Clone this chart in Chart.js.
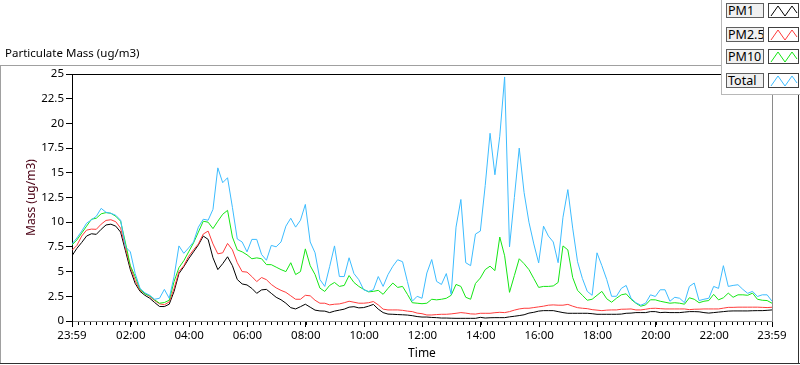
<!DOCTYPE html>
<html><head><meta charset="utf-8">
<script src="https://cdn.jsdelivr.net/npm/chart.js@4.4.1/dist/chart.umd.min.js"></script>
<style>
html,body{margin:0;padding:0;background:#fff;overflow:hidden}
#wrap{position:relative;width:800px;height:365px;background:#fff}
canvas{position:absolute;left:0;top:0}
.ln{position:absolute}
.t{position:absolute;font-family:"Noto Sans",sans-serif;font-size:11px;color:#000;white-space:nowrap}
#legend{position:absolute;left:721px;top:0;width:79px;height:95px;background:#fff;border-left:1px solid #b8b8b8;border-bottom:1px solid #b8b8b8;box-sizing:border-box;z-index:3}
.lab{position:absolute;left:4px;width:38px;height:15px;box-sizing:border-box;background:#f0f0f0;border:1px solid #606060;font-family:"Noto Sans",sans-serif;font-size:12.5px;line-height:13px;padding-left:1px;color:#000;overflow:hidden}
.smp{position:absolute;left:46px;width:31px;height:15px;box-sizing:border-box;background:#fff;border:1px solid #404040}
.smp svg{position:absolute;left:0;top:0}
</style></head><body>
<div id="wrap">
<canvas id="c" width="800" height="365"></canvas>
<div class="ln" style="left:0;top:65px;width:722px;height:1px;background:#a0a0a0"></div>
<div class="ln" style="left:0;top:65px;width:1px;height:299px;background:#a0a0a0"></div>
<div class="ln" style="left:0;top:363px;width:800px;height:1px;background:#303030"></div>
<div class="ln" style="left:798px;top:95px;width:1px;height:269px;background:#303030"></div>
<div class="t" id="title" style="left:5px;top:45px;font-size:11.5px;line-height:15px">Particulate Mass (ug/m3)</div>
<div id="legend"></div>
</div>
<script>
// ---- data ----
const seriesNames = ['PM1', 'PM2.5', 'PM10', 'Total'];
const startMinute = 0;      // 23:59
const stepMinutes = 10;
const pm1 = [
6.6,7.35,7.95,8.6,8.83,8.77,9.28,9.72,9.8,9.6,
9.0,7.1,5.2,3.8,3.0,2.6,2.3,1.87,1.47,1.46,
1.7,3.0,4.8,5.5,6.3,7.0,7.7,8.6,8.26,6.4,
5.2,5.8,6.5,5.6,4.2,3.75,3.65,3.3,2.8,3.15,
3.2,2.8,2.4,2.15,1.8,1.35,1.22,1.45,1.7,1.4,
1.1,1.02,1.0,0.85,1.0,1.1,1.2,1.4,1.45,1.33,
1.36,1.5,1.68,1.2,0.85,0.7,0.68,0.65,0.63,0.6,
0.54,0.45,0.4,0.4,0.36,0.34,0.3,0.3,0.28,0.27,
0.27,0.27,0.27,0.27,0.37,0.3,0.33,0.34,0.34,0.34,
0.42,0.48,0.55,0.63,0.8,0.88,1.0,1.05,1.05,1.05,
0.95,0.85,0.78,0.78,0.78,0.78,0.78,0.74,0.68,0.68,
0.68,0.68,0.68,0.7,0.78,0.8,0.85,0.85,0.85,0.95,
0.95,0.85,0.88,0.85,0.85,0.85,0.9,0.95,0.95,0.93,
0.85,0.8,0.85,0.9,0.95,1.0,1.02,1.02,1.02,1.02,
1.04,1.05,1.05,1.08,1.12];
const pm25 = [
7.15,7.65,8.6,9.2,9.3,9.28,9.8,10.18,10.25,10.05,
9.4,7.4,5.5,4.1,3.1,2.8,2.47,2.07,1.74,1.64,
1.93,3.3,5.0,5.6,6.55,7.2,7.8,8.8,9.1,7.8,
6.8,6.9,7.85,7.2,5.9,5.0,4.95,4.5,3.99,4.4,
4.18,3.7,3.35,3.1,2.9,2.55,2.2,2.2,2.6,2.55,
2.1,1.8,1.8,1.63,1.7,1.73,1.85,2.0,1.9,1.8,
1.8,1.85,1.97,1.63,1.2,1.12,1.12,1.12,1.08,1.0,
0.95,0.8,0.74,0.61,0.61,0.65,0.68,0.68,0.72,0.78,
0.85,0.8,0.72,0.7,0.78,0.78,0.78,0.84,0.88,0.85,
0.95,1.1,1.22,1.29,1.29,1.36,1.43,1.5,1.6,1.63,
1.6,1.6,1.68,1.5,1.35,1.29,1.25,1.15,1.1,1.05,
1.1,1.12,1.12,1.19,1.2,1.22,1.12,1.12,1.19,1.27,
1.29,1.25,1.22,1.22,1.22,1.22,1.22,1.15,1.19,1.2,
1.22,1.22,1.22,1.22,1.3,1.38,1.38,1.4,1.4,1.4,
1.4,1.4,1.38,1.36,1.39];
const pm10 = [
7.7,8.2,8.9,9.6,10.3,10.4,10.85,10.97,10.9,10.6,
10.1,7.9,5.6,4.5,3.2,2.75,2.55,2.14,1.8,1.87,
2.1,4.0,5.4,6.1,7.0,7.9,9.0,10.1,10.0,9.35,
10.1,10.8,11.2,8.5,7.2,7.0,6.7,6.3,6.39,6.3,
5.71,5.7,5.45,5.2,5.0,5.9,4.7,5.0,7.3,5.6,
4.7,3.33,2.99,3.6,3.9,3.5,3.6,4.6,3.9,3.5,
3.2,2.95,3.0,3.1,2.7,3.3,3.84,3.4,3.5,2.7,
1.85,1.8,1.75,1.8,2.2,2.14,2.2,2.3,2.6,3.7,
3.5,2.4,2.2,3.8,4.35,5.2,5.55,5.1,8.5,6.6,
2.9,4.6,6.3,5.8,5.2,4.3,3.4,3.5,3.5,3.55,
3.9,7.6,7.2,4.4,3.1,2.6,2.1,2.2,2.6,3.0,
2.25,1.9,2.3,2.65,2.75,2.2,1.8,1.5,1.63,2.15,
2.14,2.0,1.9,1.8,1.85,1.8,1.7,2.35,2.2,1.85,
2.0,2.07,2.7,2.14,2.35,2.82,2.4,2.65,2.65,2.6,
2.82,2.2,2.1,2.07,1.8];
const total = [
7.8,8.4,9.1,9.9,10.24,10.6,11.4,11.0,10.9,10.7,
10.2,7.5,7.0,4.8,3.3,2.85,2.6,2.2,2.3,3.2,
2.3,4.5,7.6,6.85,7.4,8.0,9.5,10.3,10.2,11.3,
15.5,14.0,14.5,11.5,8.3,8.0,7.0,8.26,8.26,6.73,
6.15,7.65,7.51,8.0,9.6,10.4,9.5,10.2,11.8,8.0,
6.9,4.2,3.5,5.5,7.6,4.5,4.5,6.4,4.8,4.18,
3.16,2.99,3.16,4.5,3.5,4.69,5.54,6.2,6.0,4.0,
2.0,2.5,2.3,4.86,6.22,4.01,3.7,4.8,2.7,9.5,
12.3,5.9,5.6,8.8,9.1,13.7,19.0,14.8,18.7,24.7,
7.5,12.5,17.5,13.0,10.0,7.8,5.88,9.6,8.6,8.0,
5.9,10.5,13.3,9.4,6.0,4.3,3.0,2.6,6.9,5.6,
4.2,2.5,2.5,3.3,3.6,2.3,1.85,1.6,1.8,2.65,
2.48,3.16,3.16,2.0,2.4,2.3,1.85,3.5,3.84,2.07,
2.2,2.3,3.5,3.3,5.6,3.5,3.6,3.67,3.2,2.8,
3.0,2.48,2.65,2.65,2.0];
const xTickValues = [0,121,241,361,481,601,721,841,961,1081,1201,1321,1440];
const xTickLabels = ['23:59','02:00','04:00','06:00','08:00','10:00','12:00','14:00','16:00','18:00','20:00','22:00','23:59'];
const yTickValues = [0,2.5,5,7.5,10,12.5,15,17.5,20,22.5,25];
const yTickLabels = ['0','2.5','5','7.5','10','12.5','15','17.5','20','22.5','25'];
const minorTickMinutes = 12;

// ---- style ----
const colors = ['#000000', '#ff3c3c', '#14e614', '#3cbcff'];
const FONT = '"Noto Sans", sans-serif';

const allSeries = [pm1, pm25, pm10, total];
const toPoints = arr => arr.map((v, i) => ({x: startMinute + i * stepMinutes, y: v}));

// legend (HTML)
const legend = document.getElementById('legend');
const rowTops = [3, 27, 49, 73];
seriesNames.forEach((n, i) => {
  const l = document.createElement('div');
  l.className = 'lab'; l.style.top = rowTops[i] + 'px'; l.textContent = n;
  legend.appendChild(l);
  const s = document.createElement('div');
  s.className = 'smp'; s.style.top = rowTops[i] + 'px';
  s.innerHTML = '<svg width="29" height="13"><polyline points="2,12 9,2 16,12 23,2 28,9" fill="none" stroke="' + colors[i] + '" stroke-width="1"/></svg>';
  legend.appendChild(s);
});

const framePlugin = {
  id: 'frame',
  afterDraw(chart) {
    const {ctx, chartArea: a} = chart;
    const xs = chart.scales.x;
    ctx.save();
    ctx.lineWidth = 1;
    ctx.strokeStyle = '#000';
    ctx.beginPath(); ctx.moveTo(a.left, Math.floor(a.top) + 0.5); ctx.lineTo(a.right, Math.floor(a.top) + 0.5); ctx.stroke();
    ctx.strokeStyle = '#8a8a8a';
    ctx.beginPath(); ctx.moveTo(Math.floor(a.right) + 0.5, a.top); ctx.lineTo(Math.floor(a.right) + 0.5, a.bottom + 1); ctx.stroke();
    ctx.strokeStyle = '#000';
    ctx.beginPath();
    for (let m = xTickValues[1] % minorTickMinutes; m <= xs.max; m += minorTickMinutes) {
      const px = Math.round(xs.getPixelForValue(m)) + 0.5;
      ctx.moveTo(px, a.bottom + 1); ctx.lineTo(px, a.bottom + 4);
    }
    ctx.stroke();
    ctx.restore();
  }
};

new Chart(document.getElementById('c'), {
  type: 'line',
  data: {
    datasets: allSeries.map((arr, i) => ({
      label: seriesNames[i],
      data: toPoints(arr),
      borderColor: colors[i],
      backgroundColor: colors[i],
      borderWidth: 1,
      pointRadius: 0,
      tension: 0,
      fill: false,
      order: 3 - i
    }))
  },
  options: {
    responsive: false,
    animation: false,
    devicePixelRatio: 1,
    layout: {padding: {top: 74, right: 28, left: 0, bottom: 0}},
    plugins: {legend: {display: false}, tooltip: {enabled: false}, title: {display: false}},
    scales: {
      x: {
        type: 'linear', min: 0, max: 1440,
        afterBuildTicks: s => { s.ticks = xTickValues.map(v => ({value: v})); },
        afterFit: s => { s.height = 44; s.paddingLeft = 0; s.paddingRight = 0; },
        ticks: {autoSkip: false, maxRotation: 0, padding: 2, color: '#000', font: {family: FONT, size: 11.5},
                callback: (v, i) => xTickLabels[i]},
        grid: {display: true, drawOnChartArea: false, drawTicks: true, tickLength: 6, tickColor: '#000'},
        border: {display: true, color: '#8a8a8a', width: 1},
        title: {display: true, text: 'Time', color: '#000', font: {family: FONT, size: 12}, padding: {top: 0, bottom: 4}}
      },
      y: {
        type: 'linear', min: 0, max: 25,
        afterBuildTicks: s => { s.ticks = yTickValues.map(v => ({value: v})); },
        afterFit: s => { s.width = 72; s.paddingTop = 0; s.paddingBottom = 0; },
        ticks: {autoSkip: false, padding: 2, color: '#000', font: {family: FONT, size: 11.5},
                callback: (v, i) => yTickLabels[i]},
        grid: {display: true, drawOnChartArea: false, drawTicks: true, tickLength: 6, tickColor: '#000'},
        border: {display: true, color: '#000', width: 1},
        title: {display: true, text: 'Mass (ug/m3)', color: '#4a0014', font: {family: FONT, size: 12}, padding: {top: 24, bottom: 0}}
      }
    }
  },
  plugins: [framePlugin]
});
</script>
</body></html>
